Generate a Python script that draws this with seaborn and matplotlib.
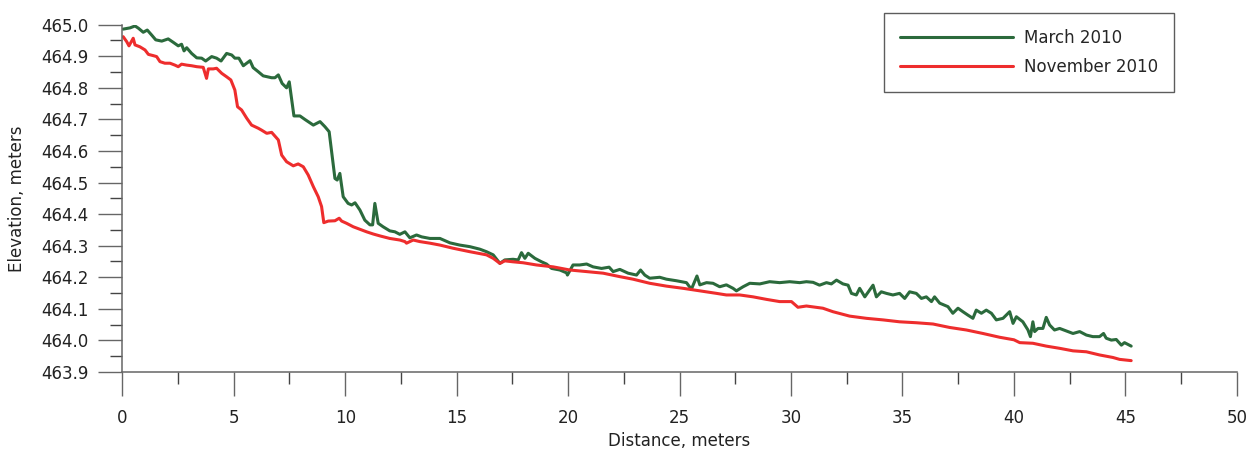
import numpy as np
import pandas as pd
import matplotlib
matplotlib.use("Agg")
import matplotlib.pyplot as plt
from matplotlib.ticker import MultipleLocator, FormatStrFormatter
import seaborn as sns

# ---- data ----
march_dist = [0.04, 0.35, 0.57, 0.72, 0.94, 1.12, 1.32, 1.50, 1.77, 2.06, 2.29, 2.51, 2.66, 2.77, 2.89,
              3.11, 3.34, 3.56, 3.74, 4.01, 4.23, 4.43, 4.68, 4.91, 5.05, 5.23, 5.43, 5.73, 5.87, 6.10,
              6.32, 6.70, 6.85, 7.00, 7.17, 7.37, 7.49, 7.70, 7.97, 8.19, 8.57, 8.87, 9.09, 9.28, 9.54,
              9.64, 9.76, 9.91, 10.13, 10.29, 10.44, 10.66, 10.88, 11.11, 11.23, 11.33, 11.48, 11.70,
              12.00, 12.23, 12.45, 12.68, 12.90, 13.20, 13.43, 13.80, 14.25, 14.70, 15.14, 15.59, 16.04,
              16.34, 16.64, 16.94, 17.16, 17.53, 17.76, 17.91, 18.06, 18.21, 18.51, 18.81, 19.03, 19.26,
              19.63, 19.93, 19.97, 20.22, 20.52, 20.83, 21.12, 21.50, 21.84, 22.02, 22.32, 22.69, 23.07,
              23.25, 23.44, 23.66, 24.11, 24.41, 24.86, 25.31, 25.53, 25.78, 25.91, 26.21, 26.50, 26.80,
              27.10, 27.40, 27.55, 27.85, 28.15, 28.60, 29.04, 29.49, 29.94, 30.39, 30.69, 30.99, 31.28,
              31.59, 31.81, 32.04, 32.33, 32.56, 32.71, 32.93, 33.08, 33.31, 33.53, 33.68, 33.83, 34.05,
              34.28, 34.57, 34.87, 35.10, 35.32, 35.62, 35.85, 36.07, 36.30, 36.44, 36.67, 37.04, 37.26,
              37.49, 37.71, 37.94, 38.16, 38.31, 38.54, 38.76, 38.99, 39.21, 39.51, 39.81, 39.96, 40.11,
              40.40, 40.63, 40.74, 40.85, 40.93, 41.08, 41.30, 41.45, 41.60, 41.82, 42.05, 42.35, 42.65,
              42.95, 43.25, 43.54, 43.84, 44.02, 44.14, 44.37, 44.59, 44.82, 44.96, 45.26]
march_elev = [464.986, 464.990, 464.996, 464.989, 464.976, 464.983, 464.967, 464.952, 464.948, 464.955,
              464.944, 464.933, 464.938, 464.917, 464.927, 464.909, 464.895, 464.894, 464.885, 464.899,
              464.894, 464.885, 464.909, 464.904, 464.894, 464.894, 464.870, 464.886, 464.864, 464.851,
              464.838, 464.832, 464.832, 464.841, 464.814, 464.800, 464.819, 464.711, 464.711, 464.700,
              464.682, 464.693, 464.677, 464.661, 464.513, 464.508, 464.529, 464.455, 464.434, 464.429,
              464.436, 464.413, 464.381, 464.366, 464.366, 464.434, 464.371, 464.360, 464.347, 464.344,
              464.336, 464.344, 464.325, 464.334, 464.328, 464.323, 464.323, 464.309, 464.302, 464.297,
              464.289, 464.281, 464.271, 464.244, 464.255, 464.257, 464.255, 464.278, 464.260, 464.276,
              464.260, 464.249, 464.242, 464.228, 464.223, 464.214, 464.207, 464.239, 464.239, 464.242,
              464.233, 464.228, 464.232, 464.218, 464.225, 464.213, 464.207, 464.223, 464.207, 464.197,
              464.200, 464.194, 464.189, 464.183, 464.162, 464.204, 464.176, 464.183, 464.181, 464.170,
              464.176, 464.165, 464.157, 464.170, 464.181, 464.179, 464.186, 464.183, 464.186, 464.183,
              464.186, 464.184, 464.175, 464.183, 464.179, 464.191, 464.179, 464.175, 464.149, 464.144,
              464.165, 464.138, 464.160, 464.175, 464.138, 464.154, 464.149, 464.144, 464.149, 464.133,
              464.154, 464.149, 464.133, 464.138, 464.123, 464.138, 464.118, 464.107, 464.086, 464.102,
              464.091, 464.080, 464.070, 464.096, 464.086, 464.096, 464.086, 464.065, 464.070, 464.091,
              464.054, 464.075, 464.059, 464.033, 464.012, 464.059, 464.028, 464.038, 464.038, 464.073,
              464.049, 464.033, 464.038, 464.030, 464.022, 464.028, 464.017, 464.012, 464.012, 464.022,
              464.007, 464.001, 464.003, 463.985, 463.993, 463.982]

november_dist = [0.04, 0.20, 0.30, 0.49, 0.57, 0.79, 1.02, 1.17, 1.39, 1.54, 1.69, 1.91, 2.14, 2.36, 2.51,
                 2.66, 2.89, 3.11, 3.34, 3.63, 3.78, 3.86, 4.08, 4.23, 4.46, 4.68, 4.87, 5.05, 5.17, 5.35,
                 5.58, 5.80, 6.10, 6.25, 6.48, 6.70, 7.00, 7.15, 7.37, 7.67, 7.89, 8.12, 8.34, 8.57, 8.79,
                 8.94, 9.04, 9.24, 9.54, 9.73, 9.84, 10.06, 10.36, 10.66, 10.96, 11.26, 11.56, 12.00, 12.45,
                 12.68, 12.75, 13.05, 13.35, 13.80, 14.25, 14.84, 15.59, 16.34, 16.64, 16.94, 17.16, 17.53,
                 17.98, 18.58, 19.33, 20.08, 20.83, 21.57, 22.32, 22.91, 23.66, 24.41, 25.16, 25.91, 26.66,
                 27.10, 27.70, 28.30, 28.90, 29.49, 30.02, 30.31, 30.69, 31.43, 31.88, 32.63, 33.38, 34.13,
                 34.87, 35.62, 36.37, 37.12, 37.87, 38.61, 39.36, 40.00, 40.26, 40.85, 41.45, 42.05, 42.65,
                 43.25, 43.84, 44.44, 44.74, 45.26]
november_elev = [464.962, 464.946, 464.933, 464.957, 464.936, 464.930, 464.920, 464.906, 464.902, 464.899,
                 464.883, 464.878, 464.878, 464.872, 464.867, 464.875, 464.872, 464.870, 464.867, 464.865,
                 464.830, 464.860, 464.860, 464.862, 464.846, 464.835, 464.825, 464.793, 464.740, 464.730,
                 464.704, 464.682, 464.672, 464.666, 464.656, 464.659, 464.635, 464.587, 464.566, 464.553,
                 464.559, 464.550, 464.524, 464.487, 464.455, 464.424, 464.373, 464.378, 464.379, 464.387,
                 464.378, 464.371, 464.360, 464.352, 464.344, 464.337, 464.331, 464.323, 464.318, 464.313,
                 464.308, 464.318, 464.313, 464.308, 464.302, 464.292, 464.281, 464.271, 464.260, 464.244,
                 464.252, 464.249, 464.246, 464.239, 464.233, 464.223, 464.218, 464.213, 464.202, 464.194,
                 464.181, 464.172, 464.165, 464.157, 464.149, 464.144, 464.144, 464.138, 464.130, 464.123,
                 464.123, 464.105, 464.109, 464.102, 464.091, 464.077, 464.070, 464.065, 464.059, 464.056,
                 464.052, 464.041, 464.033, 464.022, 464.010, 464.002, 463.993, 463.991, 463.982, 463.975,
                 463.967, 463.964, 463.954, 463.946, 463.940, 463.936]

series_names = ["March 2010", "November 2010"]
series_colors = ["#2b6a3c", "#ee2d2d"]
x_label = "Distance, meters"
y_label = "Elevation, meters"

df = pd.concat([
    pd.DataFrame({"Distance": march_dist, "Elevation": march_elev, "Survey": series_names[0]}),
    pd.DataFrame({"Distance": november_dist, "Elevation": november_elev, "Survey": series_names[1]}),
], ignore_index=True)

sns.set_style("ticks")
plt.rcParams["font.family"] = ["DejaVu Sans"]
FS = 12

fig = plt.figure(figsize=(12.53, 4.49), dpi=100)
ax = fig.add_axes([0.0976, 0.1715, 0.8895, 0.7735])

sns.lineplot(data=df, x="Distance", y="Elevation", hue="Survey", hue_order=series_names,
             palette=dict(zip(series_names, series_colors)), estimator=None, sort=False,
             linewidth=2.2, ax=ax)

ax.set_xlim(0, 50)
ax.set_ylim(463.9, 465.0)
ax.xaxis.set_major_locator(MultipleLocator(5))
ax.xaxis.set_minor_locator(MultipleLocator(2.5))
ax.yaxis.set_major_locator(MultipleLocator(0.1))
ax.yaxis.set_minor_locator(MultipleLocator(0.05))
ax.yaxis.set_major_formatter(FormatStrFormatter("%.1f"))

for s in ["top", "right"]:
    ax.spines[s].set_visible(False)
for s in ["left", "bottom"]:
    ax.spines[s].set_color("#666666")
    ax.spines[s].set_linewidth(1.1)

ax.tick_params(which="major", direction="out", length=17, width=1.0, color="#666666",
               labelsize=FS, labelcolor="#222222")
ax.tick_params(which="minor", direction="out", length=8.5, width=1.0, color="#444444")
ax.tick_params(axis="x", which="major", pad=10)
ax.tick_params(axis="y", which="major", pad=7)

ax.set_xlabel(x_label, fontsize=FS, color="#222222")
ax.set_ylabel(y_label, fontsize=FS, color="#222222")
ax.xaxis.set_label_coords(0.5, -0.172)
ax.yaxis.set_label_coords(-0.0864, 0.5)

leg = ax.legend(title=None, loc="upper left", bbox_to_anchor=(884 / 1253, 1 - 13 / 449),
                bbox_transform=fig.transFigure, borderaxespad=0, fontsize=FS,
                handlelength=6.8, handletextpad=0.65, labelspacing=0.68, borderpad=0.95,
                fancybox=False, frameon=True)
leg.get_frame().set_edgecolor("#333333")
leg.get_frame().set_linewidth(1.0)
for line in leg.get_lines():
    line.set_linewidth(2.2)

fig.savefig("out.png", dpi=100, facecolor="white")
